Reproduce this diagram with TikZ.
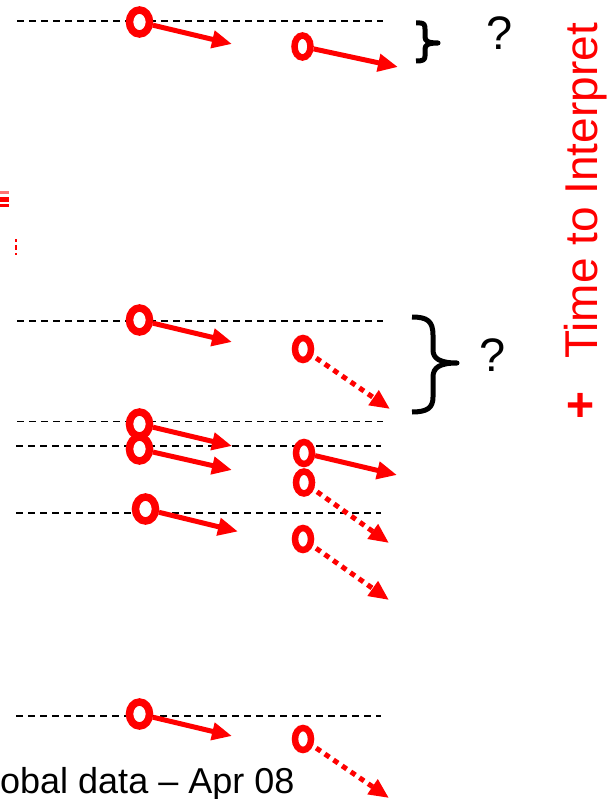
\documentclass[tikz,border=0pt]{standalone}
\usepackage{fontspec}
\setmainfont{Liberation Sans}
\usetikzlibrary{arrows.meta,shapes.geometric}
\begin{document}
\begin{tikzpicture}[x=1pt,y=-1pt,
  ring/.style={ellipse, draw=red, fill=white, line width=7.5pt,
    minimum width=20pt, minimum height=24pt, inner sep=0pt},
  ringb/.style={ring, line width=6.5pt, minimum width=16pt, minimum height=22pt},
  arr/.style={draw=red, line width=5pt, -{Triangle[length=20pt,width=17pt]}},
  darr/.style={arr, dash pattern=on 5.5pt off 5pt, shorten <=4pt},
  guide/.style={draw=black, line width=1.7pt, dash pattern=on 7pt off 5pt},
  bracepath/.style={draw=black, line width=5pt, line join=round},
  q/.style={font=\fontsize{47}{47}\selectfont, inner sep=0pt},
  redtxt/.style={text=red, inner sep=0pt, rotate=90}
]
\useasboundingbox (0,0) rectangle (607,799);
\clip (0,0) rectangle (607,799);

% dashed reference lines
\draw[guide] (17,21) -- (383,21);
\draw[guide] (17,321) -- (383,321);
\draw[guide] (17,421.5) -- (383,421.5);
\draw[guide] (16,446) -- (381,446);
\draw[guide] (16,513) -- (381,513);
\draw[guide] (16,716) -- (381,716);

% ring markers, first column
\node[ring] (a1) at (139.5,22) {};
\node[ring] (b1) at (139.5,320) {};
\node[ring] (c1) at (139.5,424) {};
\node[ring] (c2) at (139.5,449) {};
\node[ring] (c5) at (145.5,509) {};
\node[ring] (d1) at (139.5,714) {};
% ring markers, second column
\node[ringb] (a2) at (302.5,46.5) {};
\node[ringb] (b2) at (303,349) {};
\node[ringb] (c3) at (304,453) {};
\node[ringb] (c4) at (304,482.5) {};
\node[ringb] (c6) at (303,539) {};
\node[ringb] (d2) at (303,739) {};

% arrow end points
\coordinate (ta1) at (232,44);
\coordinate (ta2) at (398,67);
\coordinate (tb1) at (232,342);
\coordinate (tb2) at (390,409);
\coordinate (tc1) at (232,446);
\coordinate (tc2) at (232,470);
\coordinate (tc3) at (397,475);
\coordinate (tc4) at (389,543);
\coordinate (tc5) at (238,531.5);
\coordinate (tc6) at (389,600);
\coordinate (td1) at (232,736);
\coordinate (td2) at (389,798);

\draw[arr] (a1) -- (ta1);
\draw[arr] (a2) -- (ta2);
\draw[arr] (b1) -- (tb1);
\draw[darr] (b2) -- (tb2);
\draw[arr] (c1) -- (tc1);
\draw[arr] (c2) -- (tc2);
\draw[arr] (c3) -- (tc3);
\draw[darr] (c4) -- (tc4);
\draw[arr] (c5) -- (tc5);
\draw[darr] (c6) -- (tc6);
\draw[arr] (d1) -- (td1);
\draw[darr] (d2) -- (td2);

% braces and question marks
\draw[bracepath] (416,23) -- (420,23) .. controls (424,23) and (425,25) .. (425,29)
  -- (425,37) .. controls (425,41) and (428,43) .. (438,43)
  .. controls (428,43) and (425,45) .. (425,49)
  -- (425,56) .. controls (425,60) and (423,61) .. (416,61);
\draw[bracepath] (412,317) .. controls (427,317) and (433,321) .. (433,335)
  -- (433,350) .. controls (433,358) and (439,363) .. (457,363)
  .. controls (439,363) and (433,368) .. (433,377)
  -- (433,397) .. controls (433,408) and (427,412) .. (412,412);
\node[q] (q1) at (500,33) {?};
\node[q] (q2) at (493,355) {?};

% side label
\node[redtxt, font=\fontsize{48}{48}\selectfont\bfseries, anchor=center] (plus) at (582,405) {+};
\node[redtxt, font=\fontsize{46}{46}\selectfont, anchor=base west] (lbl) at (597,359) {Time to Interpret};

% clipped fragments at the left edge
\fill[red!55] (0,191) rectangle (9,194);
\fill[red] (0,197) rectangle (9,202);
\fill[red] (0,204.5) rectangle (9,207.5);
\fill[red] (15,239) rectangle (17,242);
\fill[red] (15,245) rectangle (17,250);
\fill[red] (15,253) rectangle (17,255.5);

% footer
\node[anchor=base west, inner sep=0pt, font=\fontsize{36}{36}\selectfont] (foot) at (-36,793) {Global data – Apr 08};
\end{tikzpicture}
\end{document}
